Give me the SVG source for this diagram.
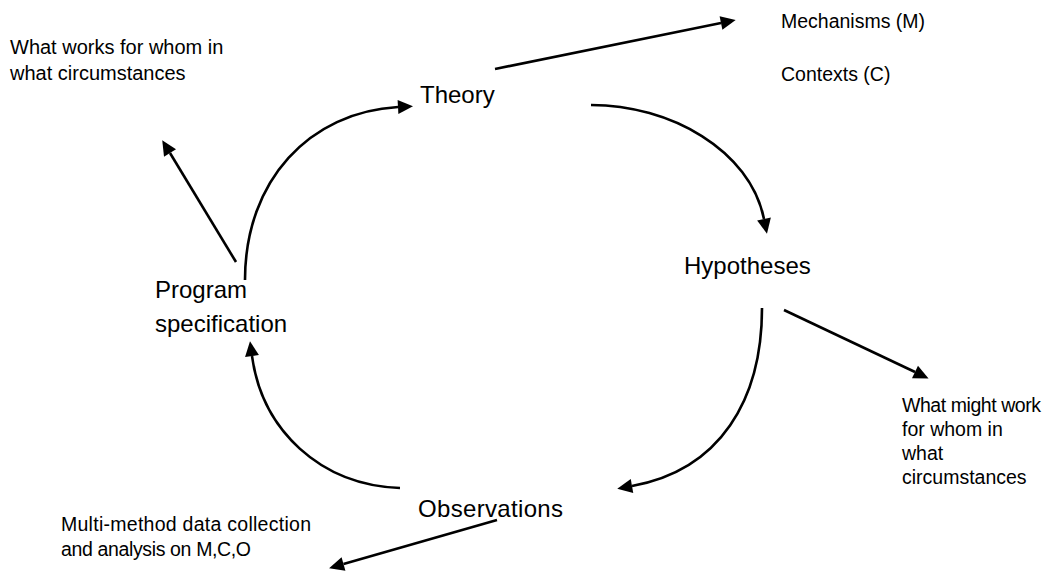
<svg xmlns="http://www.w3.org/2000/svg" width="1057" height="571" viewBox="0 0 1057 571">
  <style>
    .bg { fill: #ffffff; }
    .big { font-family: "Liberation Sans", Arial, sans-serif; font-size: 24px; fill: #000; }
    .small { font-family: "Liberation Sans", Arial, sans-serif; font-size: 19.5px; fill: #000; }
    .conn { fill: none; stroke: #000; stroke-width: 2.6; marker-end: url(#arrow); }
  </style>
  <defs>
    <marker id="arrow" markerUnits="userSpaceOnUse" markerWidth="16" markerHeight="16" refX="0" refY="7" orient="auto" overflow="visible">
      <path d="M0,0 L15,7 L0,14 z" fill="#000"/>
    </marker>
  </defs>
  <rect class="bg" x="0" y="0" width="1057" height="571"/>

  <g id="connectors">
    <path class="conn" d="M495,69 L721,23"/>
    <path class="conn" d="M591,105 C670,105 750,150 764,219"/>
    <path class="conn" d="M784,310 L915,372"/>
    <path class="conn" d="M762,308 C762,400 720,470 632,486"/>
    <path class="conn" d="M497,520 L343.5,564"/>
    <path class="conn" d="M400,488 C320,485 262,430 252,356"/>
    <path class="conn" d="M245,280 C245,180 310,112 398,107"/>
    <path class="conn" d="M236,262 L170,153"/>
  </g>

  <g id="theory"><text class="big" x="420" y="103">Theory</text></g>
  <g id="hypotheses"><text class="big" x="684" y="274">Hypotheses</text></g>
  <g id="observations"><text class="big" x="418" y="517" textLength="145">Observations</text></g>
  <g id="program-specification">
    <text class="big" x="155" y="298">Program</text>
    <text class="big" x="155" y="332">specification</text>
  </g>
  <g id="what-works">
    <text class="small" x="10" y="54" style="font-size:20px">What works for whom in</text>
    <text class="small" x="10" y="80" style="font-size:20px">what circumstances</text>
  </g>
  <g id="mechanisms-contexts">
    <text class="small" x="781" y="28">Mechanisms (M)</text>
    <text class="small" x="781" y="81">Contexts (C)</text>
  </g>
  <g id="what-might-work">
    <text class="small" x="902" y="412" textLength="139">What might work</text>
    <text class="small" x="902" y="436">for whom in</text>
    <text class="small" x="902" y="460">what</text>
    <text class="small" x="902" y="484">circumstances</text>
  </g>
  <g id="multi-method">
    <text class="small" x="61" y="531" textLength="250">Multi-method data collection</text>
    <text class="small" x="61" y="556" textLength="190">and analysis on M,C,O</text>
  </g>
</svg>
